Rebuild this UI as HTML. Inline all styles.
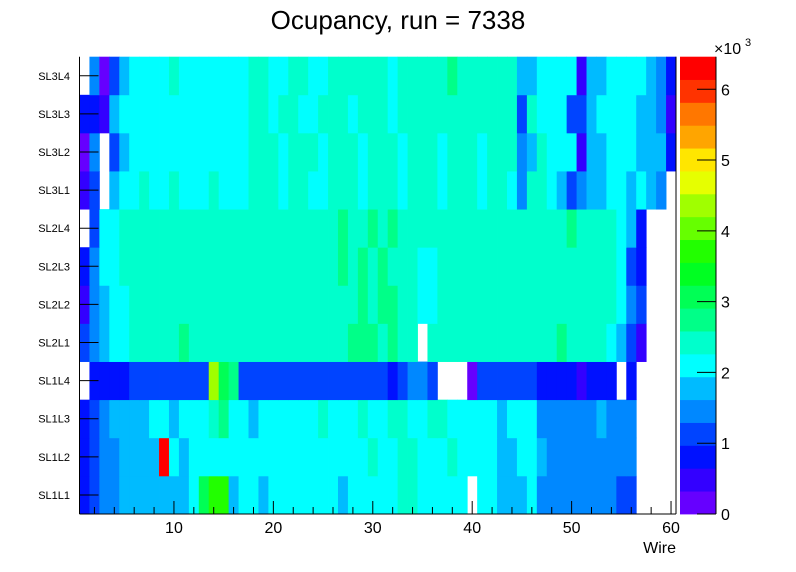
<!DOCTYPE html>
<html><head><meta charset="utf-8"><style>
html,body{margin:0;padding:0;background:#fff}
svg{display:block;font-family:"Liberation Sans",sans-serif}
</style></head><body>
<svg id="chart" width="796" height="572" viewBox="0 0 796 572" xmlns="http://www.w3.org/2000/svg">
<rect x="0" y="0" width="796" height="572" fill="#fff"/>
<text x="398" y="29" text-anchor="middle" font-size="26">Ocupancy, run = 7338</text>
<g id="cells"></g>
<g id="axes"></g>
<g id="cbar"></g>
</svg>
<script>
const layers = ["SL1L1","SL1L2","SL1L3","SL1L4","SL2L1","SL2L2","SL2L3","SL2L4","SL3L1","SL3L2","SL3L3","SL3L4"];
const xTicks = [10,20,30,40,50,60];
const zTicks = [0,1,2,3,4,5,6];
const paletteColors = ["#6600ff","#3300ff","#0011ff","#0044ff","#0088ff","#00bbff","#00ffff","#00ffcc","#00ff88","#00ff55","#00ff22","#22ff00","#66ff00","#a0ff00","#e6ff00","#ffe600","#ffa500","#ff7700","#ff3300","#ff0000"];
const zMax = 6460;
// counts per layer, wires 1..60 (index 0 = SL1L1 ... index 11 = SL3L4)
const sl1l1 = [810,1130,1450,1450,1780,1780,1780,1780,1780,1780, 1780,2100,3070,3720,3720,1780,2100,2100,1780,2100, 2100,2100,2100,2100,2100,2100,1780,2100,2100,2100, 2100,2100,2420,2420,2100,2100,2100,2100,2100,0, 2100,2100,1780,1780,1780,2100,1450,1450,1450,1450, 1450,1450,1450,1450,1130,1130,0,0,0,0];
const sl1l2 = [810,1130,1450,1450,1780,1780,1780,1780,6300,2100, 1780,2100,2100,2100,2100,2100,2100,2100,2100,2100, 2100,2100,2100,2100,2100,2100,2100,2100,2100,2420, 2100,2100,2420,2420,2100,2100,2100,2420,2100,2100, 2100,2100,1780,1780,2100,2100,1780,1450,1450,1450, 1450,1450,1450,1450,1450,1450,0,0,0,0];
const sl1l3 = [810,1130,1450,1780,1780,1780,1780,2100,2100,1780, 2100,2100,2100,2420,2750,2100,2100,1780,2100,2100, 2100,2100,2100,2100,2420,2100,2100,2100,2420,2100, 2100,2420,2420,2100,2100,2420,2420,2100,2100,2100, 2100,2100,1780,2100,2100,2100,1450,1450,1450,1450, 1450,1450,1780,1450,1450,1450,0,0,0,0];
const sl1l4 = [0,810,810,810,810,1130,1130,1130,1130,1130, 1130,1130,1130,4360,3070,2750,1130,1130,1130,1130, 1130,1130,1130,1130,1130,1130,1130,1130,1130,1130, 1130,810,1130,1450,1450,1130,0,0,0,160, 1130,1130,1130,1130,1130,1130,810,810,810,810, 480,810,810,810,0,810,0,0,0,0];
const sl2l1 = [1130,1450,1780,2100,2100,2420,2420,2420,2420,2420, 2750,2420,2420,2420,2420,2420,2420,2420,2420,2420, 2420,2420,2420,2420,2420,2420,2420,2750,2750,2750, 2420,2750,2420,2420,0,2420,2420,2420,2420,2420, 2420,2420,2420,2420,2420,2420,2420,2420,2750,2420, 2420,2420,2420,2100,1780,1130,480,0,0,0];
const sl2l2 = [480,1450,1780,2100,2100,2420,2420,2420,2420,2420, 2420,2420,2420,2420,2420,2420,2420,2420,2420,2420, 2420,2420,2420,2420,2420,2420,2420,2420,2750,2420, 2750,2750,2420,2420,2100,2100,2420,2420,2420,2420, 2420,2420,2420,2420,2420,2420,2420,2420,2420,2420, 2420,2420,2420,2420,2100,1450,1130,0,0,0];
const sl2l3 = [810,1450,2100,2100,2420,2420,2420,2420,2420,2420, 2420,2420,2420,2420,2420,2420,2420,2420,2420,2420, 2420,2420,2420,2420,2420,2420,2750,2420,2750,2420, 2750,2420,2420,2420,2100,2100,2420,2420,2420,2420, 2420,2420,2420,2420,2420,2420,2420,2420,2420,2420, 2420,2420,2420,2420,2100,1130,810,0,0,0];
const sl2l4 = [0,1130,2100,2100,2420,2420,2420,2420,2420,2420, 2420,2420,2420,2420,2420,2420,2420,2420,2420,2420, 2420,2420,2420,2420,2420,2420,2750,2420,2420,2750, 2420,2750,2420,2420,2420,2420,2420,2420,2420,2420, 2420,2420,2420,2420,2420,2420,2420,2420,2420,2750, 2420,2420,2420,2420,2100,1780,810,0,0,0];
const sl3l1 = [480,1130,0,1780,2100,2100,2420,2100,2100,2420, 2100,2100,2100,2420,2100,2100,2100,2420,2420,2420, 2100,2420,2420,2100,2100,2420,2420,2420,2100,2420, 2420,2420,2100,2420,2420,2420,2100,2420,2420,2420, 2100,2420,2420,2100,1450,2420,2420,2100,1780,1130, 1450,1780,1780,2100,2100,1780,2100,1780,1450,0];
const sl3l2 = [160,1450,0,1130,1780,2100,2100,2100,2100,2100, 2100,2100,2100,2100,2100,2100,2100,2420,2420,2420, 2100,2420,2420,2420,2100,2420,2420,2420,2100,2420, 2420,2420,2100,2420,2420,2420,2100,2420,2420,2420, 2100,2420,2420,2420,1450,1780,2420,2100,2100,2100, 480,1780,1780,2100,2100,2100,1780,1780,1780,810];
const sl3l3 = [810,810,480,1780,2100,2100,2100,2100,2100,2100, 2100,2100,2100,2100,2100,2100,2100,2420,2420,2100, 2420,2420,2100,2100,2420,2420,2420,2100,2420,2420, 2420,2100,2420,2420,2420,2420,2420,2420,2420,2420, 2420,2420,2420,2420,1130,2420,2100,2100,2100,1130, 1130,1780,2100,2100,2100,2100,1780,1780,1450,480];
const sl3l4 = [0,1450,160,1130,1780,2100,2100,2100,2100,2420, 2100,2100,2100,2100,2100,2100,2100,2420,2420,2100, 2100,2420,2420,2100,2100,2420,2420,2420,2420,2420, 2420,2100,2420,2420,2420,2420,2420,2750,2420,2420, 2420,2420,2420,2420,1780,1780,2100,2100,2100,2100, 480,1780,1780,2100,2100,2100,2100,1780,1450,810];
const counts = [sl1l1,sl1l2,sl1l3,sl1l4,sl2l1,sl2l2,sl2l3,sl2l4,sl3l1,sl3l2,sl3l3,sl3l4];

const NS="http://www.w3.org/2000/svg";
const PL=79.5, PR=676, PT=56.7, PB=514;
const xMin=0.5, xMax=60.5;
function xs(v){return PL+(v-xMin)/(xMax-xMin)*(PR-PL);}
function ys(i){return PB-i*(PB-PT)/layers.length;}
function zy(v){return PB-v/zMax*(PB-PT);}
function colorFor(v){let k=Math.floor(v/zMax*paletteColors.length);if(k<0)k=0;if(k>=paletteColors.length)k=paletteColors.length-1;return paletteColors[k];}
function mk(tag,attrs,parent){const e=document.createElementNS(NS,tag);for(const k in attrs)e.setAttribute(k,attrs[k]);parent.appendChild(e);return e;}

const cells=document.getElementById('cells');
counts.forEach((row,li)=>{
  row.forEach((v,wi)=>{
    if(v<=0)return;
    const w=wi+1;
    const x0=xs(w-0.5), x1=xs(w+0.5), y0=ys(li+1), y1=ys(li);
    const r=mk('rect',{x:x0.toFixed(2),y:y0.toFixed(2),width:(x1-x0+0.4).toFixed(2),height:(y1-y0+0.4).toFixed(2),fill:colorFor(v)},cells);
    
    
  });
});

const axes=document.getElementById('axes');
let ln=mk('line',{x1:PL,y1:PT,x2:PL,y2:PB,stroke:'#000','stroke-width':1},axes);


ln=mk('line',{x1:PL,y1:PB,x2:PR,y2:PB,stroke:'#000','stroke-width':1},axes);


ln=mk('line',{x1:PR,y1:PT,x2:PR,y2:PB,stroke:'#000','stroke-width':1},axes);


layers.forEach((name,i)=>{
  const yc=(ys(i)+ys(i+1))/2;
  const t=mk('line',{x1:PL,y1:yc,x2:PL+19,y2:yc,stroke:'#000','stroke-width':1},axes);
  
  
  const tx=mk('text',{x:70,y:yc+4,'text-anchor':'end','font-size':11},axes);
  tx.textContent=name;
  
  
});
for(let v=2;v<=60;v+=2){
  const major=xTicks.indexOf(v)>=0;
  const t=mk('line',{x1:xs(v),y1:PB,x2:xs(v),y2:PB-(major?13:7),stroke:'#000','stroke-width':1},axes);
  
  
}
xTicks.forEach(v=>{
  const tx=mk('text',{x:xs(v),y:533,'text-anchor':'middle','font-size':16},axes);
  tx.textContent=String(v);
  
  
});
const xt=mk('text',{x:676,y:553,'text-anchor':'end','font-size':16},axes);
xt.textContent='Wire';



const cb=document.getElementById('cbar');
const CBL=680, CBR=716;
paletteColors.forEach((c,k)=>{
  const v0=k*zMax/paletteColors.length, v1=(k+1)*zMax/paletteColors.length;
  const r=mk('rect',{x:CBL,y:zy(v1).toFixed(2),width:CBR-CBL,height:(zy(v0)-zy(v1)+0.4).toFixed(2),fill:c},cb);
  
  
});
ln=mk('line',{x1:CBR,y1:PT,x2:CBR,y2:PB,stroke:'#000','stroke-width':1},cb);


zTicks.forEach(v=>{
  const y=zy(v*1000);
  const t=mk('line',{x1:CBR-19,y1:y,x2:CBR,y2:y,stroke:'#000','stroke-width':1},cb);
  
  
  const tx=mk('text',{x:721,y:y+6,'font-size':16},cb);
  tx.textContent=String(v);
  
  
});
const ex=mk('text',{x:714,y:54,'font-size':16},cb);
ex.textContent='×10';


const ex3=mk('text',{x:745,y:46,'font-size':11},cb);
ex3.textContent='3';


</script>
</body></html>
